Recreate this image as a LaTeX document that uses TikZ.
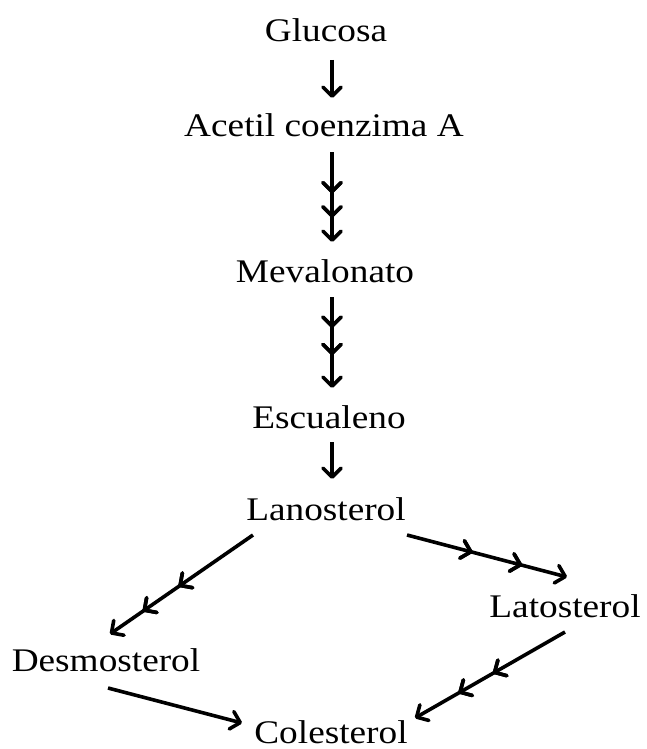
\documentclass[tikz,border=0pt]{standalone}
\usepackage{fontspec}
\setmainfont{Liberation Serif}[FakeStretch=1.13]
\usetikzlibrary{arrows.meta,decorations.markings}
\tikzset{
  lbl/.style={anchor=base,inner sep=0pt,font=\fontsize{33}{40}\selectfont},
  arr/.style={line width=3.6pt,-{Straight Barb[length=9pt,width=18pt,line width=0pt 1,round]}},
  mid/.style={postaction={decorate},decoration={markings,
    mark=at position #1 with {\arrow[line width=3.6pt]{Straight Barb[length=9pt,width=18pt,line width=0pt 1,round]}}}},
}
\begin{document}
\begin{tikzpicture}[x=1pt,y=-1pt]
\useasboundingbox (0,0) rectangle (646,749);
\node[lbl] (glu) at (326,42) {Glucosa};
\node[lbl] (ace) at (324,136) {Acetil coenzima A};
\node[lbl] (mev) at (325,282) {Mevalonato};
\node[lbl] (esc) at (329,428) {Escualeno};
\node[lbl] (lan) at (326,520) {Lanosterol};
\node[lbl] (lat) at (565,617) {Latosterol};
\node[lbl] (des) at (106,671) {Desmosterol};
\node[lbl] (col) at (331,743) {Colesterol};
% arrow end points
\coordinate (a1s) at (332,60);  \coordinate (a1e) at (332,98);
\coordinate (a2s) at (332,152); \coordinate (a2e) at (332,242);
\coordinate (a3s) at (332,297); \coordinate (a3e) at (332,388);
\coordinate (a4s) at (332,442); \coordinate (a4e) at (332,479);
\coordinate (a5s) at (253,535); \coordinate (a5e) at (110,634);
\coordinate (a6s) at (407,535); \coordinate (a6e) at (567,577);
\coordinate (a7s) at (108,688); \coordinate (a7e) at (242,723);
\coordinate (a8s) at (565,632); \coordinate (a8e) at (415,718);
\draw[arr] (a1s) -- (a1e);
\draw[arr,mid=0.46,mid=0.73] (a2s) -- (a2e);
\draw[arr,mid=0.34,mid=0.64] (a3s) -- (a3e);
\draw[arr] (a4s) -- (a4e);
\draw[arr,mid=0.52,mid=0.77] (a5s) -- (a5e);
\draw[arr,mid=0.41,mid=0.72] (a6s) -- (a6e);
\draw[arr] (a7s) -- (a7e);
\draw[arr,mid=0.48,mid=0.71] (a8s) -- (a8e);
\end{tikzpicture}
\end{document}
